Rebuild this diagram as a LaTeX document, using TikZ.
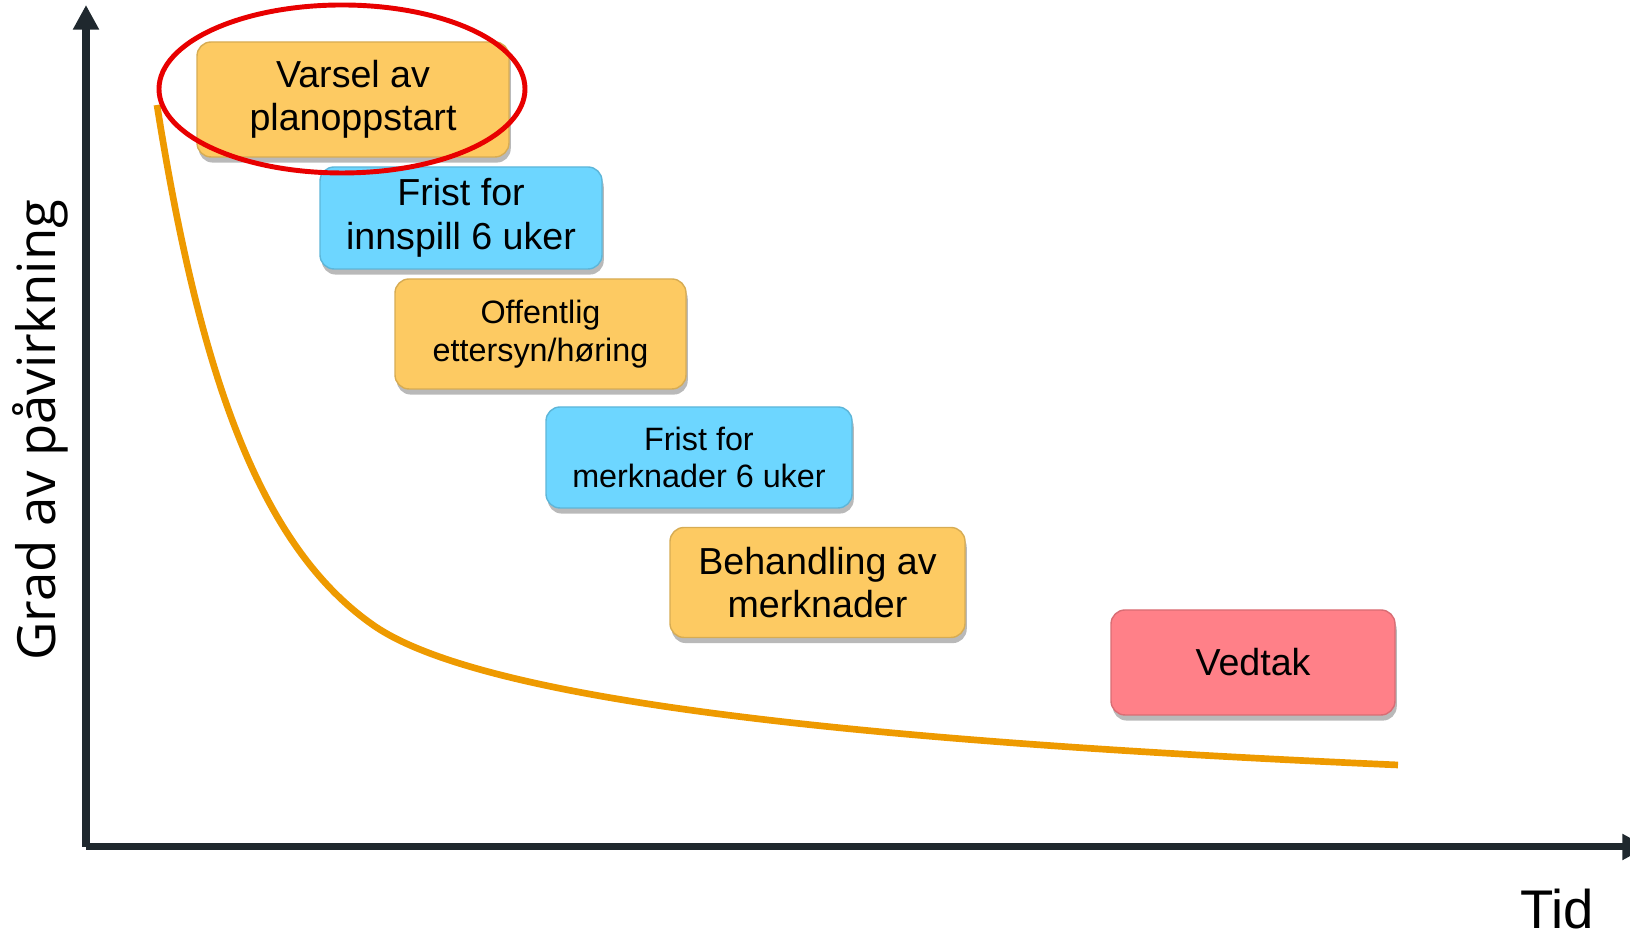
\documentclass[tikz,border=0pt]{standalone}
\usepackage{fontspec}
\setmainfont{Liberation Sans}
\newfontfamily\axislabelfont{Open Sans}
\usetikzlibrary{positioning,shadows,arrows.meta}

\definecolor{boxorange}{RGB}{253,202,98}
\definecolor{boxblue}{RGB}{109,214,255}
\definecolor{boxred}{RGB}{255,128,136}
\definecolor{curveorange}{RGB}{238,154,0}
\definecolor{axisdark}{RGB}{31,40,46}
\definecolor{ringred}{RGB}{232,0,0}

\begin{document}
\begin{tikzpicture}[
                    on grid,
                    phase/.style={
                        rounded corners=4pt,
                        align=center,
                        inner sep=2pt,
                        line width=0.4pt,
                        font=\fontsize{10.7}{12.4}\selectfont,
                        drop shadow={shadow xshift=0.5pt,shadow yshift=-1.6pt,opacity=0.55}
                    },
                    smalltext/.style={font=\fontsize{9.2}{10.7}\selectfont},
                    orangebox/.style={phase,fill=boxorange,draw=boxorange!85!black},
                    bluebox/.style={phase,fill=boxblue,draw=boxblue!85!black},
                    redbox/.style={phase,fill=boxred,draw=boxred!85!black},
                    axis/.style={draw=axisdark,line width=2pt,line join=miter,
                        -{Triangle[length=7pt,width=7pt]}}
                ]
                \useasboundingbox (0,0) rectangle (16.3,9.36);

                % axes
                \coordinate (origin) at (0.86,0.89);
                \coordinate (ytop) at (0.86,9.31);
                \coordinate (xend) at (16.47,0.89);
                \draw[axis] (origin) -- (ytop);
                \draw[axis] (origin) -- (xend);

                \node (ylabel) [rotate=90,font=\axislabelfont\fontsize{15}{18}\selectfont]
                    at (0.40,5.06) {Grad av påvirkning};
                \node (xlabel) [anchor=base,inner sep=0pt,font=\fontsize{15.5}{18}\selectfont]
                    at (15.57,0.07) {Tid};

                % influence curve
                \draw[curveorange,line width=1.9pt]
                    (1.57,8.31) .. controls (2.0,5.6) and (2.6,3.9) .. (3.73,3.11)
                                .. controls (4.8,2.36) and (8.5,1.95) .. (13.98,1.71);

                % phases
                \node (varsel) [orangebox,minimum width=3.12cm,minimum height=1.15cm]
                    at (3.53,8.365) {Varsel av\\planoppstart};
                \node (innspill) [bluebox,minimum width=2.82cm,minimum height=1.02cm,
                    below right=1.185cm and 1.08cm of varsel] {Frist for\\innspill 6 uker};
                \node (offentlig) [orangebox,smalltext,minimum width=2.91cm,minimum height=1.10cm,
                    below right=1.16cm and 0.795cm of innspill] {Offentlig\\ettersyn/høring};
                \node (merknadfrist) [bluebox,smalltext,minimum width=3.06cm,minimum height=1.01cm,
                    below right=1.235cm and 1.585cm of offentlig] {Frist for\\merknader 6 uker};
                \node (behandling) [orangebox,minimum width=2.95cm,minimum height=1.10cm,
                    below right=1.25cm and 1.185cm of merknadfrist] {Behandling av\\merknader};
                \node (vedtak) [redbox,minimum width=2.84cm,minimum height=1.05cm,
                    below right=0.80cm and 4.355cm of behandling] {Vedtak};

                % highlight ring
                \draw[ringred,line width=1.4pt] (3.42,8.47) ellipse [x radius=1.83cm,y radius=0.84cm];
            \end{tikzpicture}
\end{document}
